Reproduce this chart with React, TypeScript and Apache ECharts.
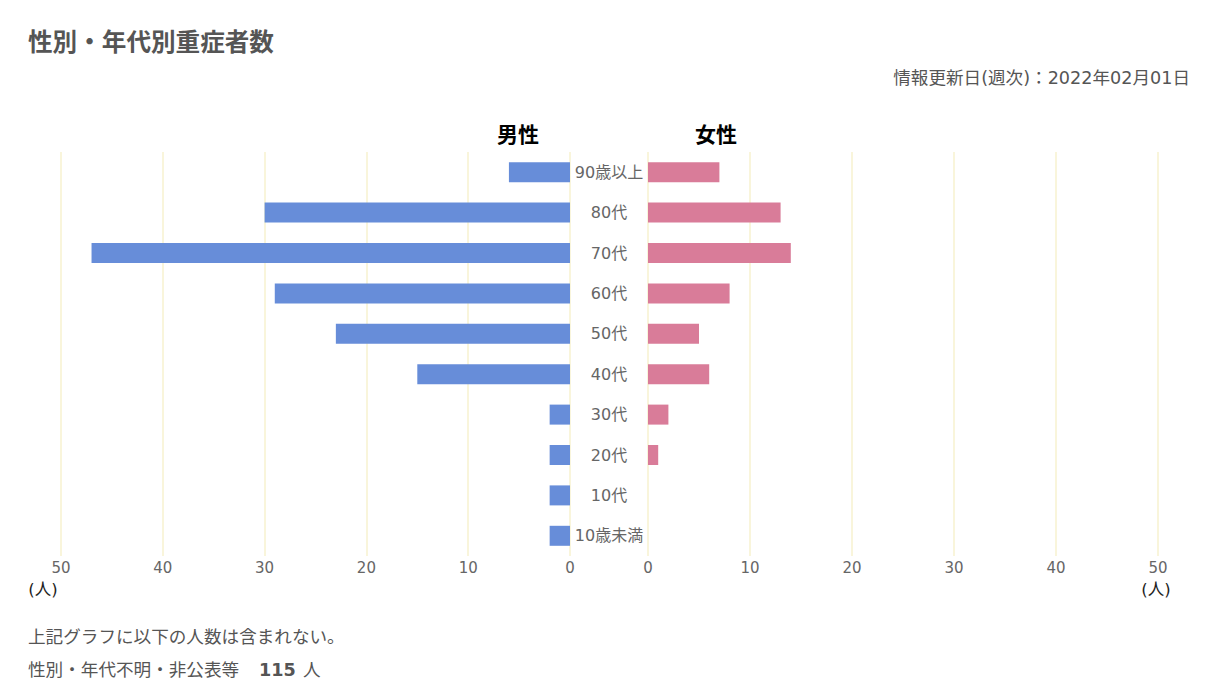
import React, { useEffect, useRef } from "react";
import * as echarts from "echarts";

const categories = ["90歳以上", "80代", "70代", "60代", "50代", "40代", "30代", "20代", "10代", "10歳未満"];
const maleValues = [6, 30, 47, 29, 23, 15, 2, 2, 2, 2];
const femaleValues = [7, 13, 14, 8, 5, 6, 2, 1, 0, 0];
const axisMin = 0;
const axisMax = 50;
const axisInterval = 10;

const FONT = '"DejaVu Sans", "Noto Sans CJK JP", sans-serif';
const GRID_LINE = "#f7f2cf";
const LABEL = "#666666";
const TEXT = "#555555";

export default function App() {
  const ref = useRef<HTMLDivElement>(null);
  useEffect(() => {
    document.body.style.margin = "0";
    const chart = echarts.init(ref.current!, null, { renderer: "svg" });
    const valueAxis = (gridIndex: number, inverse: boolean) => ({
      type: "value",
      gridIndex,
      inverse,
      min: axisMin,
      max: axisMax,
      interval: axisInterval,
      axisLine: { show: false },
      axisTick: { show: false },
      axisLabel: { color: LABEL, fontSize: 15, margin: 4, fontFamily: FONT },
      splitLine: { show: true, lineStyle: { color: GRID_LINE, width: 1.5 } },
    });
    const txt = (x: number, y: number, text: string, extra: any = {}) => ({
      type: "text",
      x,
      y,
      style: { text, fontSize: 17.6, fill: TEXT, verticalAlign: "middle", fontFamily: FONT, ...extra },
    });
    chart.setOption({
      animation: false,
      textStyle: { fontFamily: FONT },
      grid: [
        { left: 61, width: 509, top: 152, height: 404 },
        { left: 648, width: 510, top: 152, height: 404 },
      ],
      xAxis: [valueAxis(0, true), valueAxis(1, false)],
      yAxis: [
        {
          type: "category",
          gridIndex: 0,
          data: categories,
          inverse: true,
          axisLine: { show: false },
          axisTick: { show: false },
          axisLabel: { show: false },
        },
        {
          type: "category",
          gridIndex: 1,
          data: categories,
          inverse: true,
          axisLine: { show: false },
          axisTick: { show: false },
          axisLabel: { color: LABEL, fontSize: 16, align: "center", margin: 39, fontFamily: FONT },
        },
      ],
      series: [
        {
          name: "男性",
          type: "bar",
          xAxisIndex: 0,
          yAxisIndex: 0,
          data: maleValues,
          barWidth: 20,
          itemStyle: { color: "#678dd9" },
        },
        {
          name: "女性",
          type: "bar",
          xAxisIndex: 1,
          yAxisIndex: 1,
          data: femaleValues,
          barWidth: 20,
          itemStyle: { color: "#d97c99" },
        },
      ],
      graphic: [
        txt(28, 42, "性別・年代別重症者数", { fontSize: 24.6, fontWeight: "bold" }),
        txt(1190, 78, "情報更新日(週次)：2022年02月01日", { align: "right" }),
        txt(518, 135, "男性", { fontSize: 21, fontWeight: "bold", fill: "#000000", align: "center" }),
        txt(716, 135, "女性", { fontSize: 21, fontWeight: "bold", fill: "#000000", align: "center" }),
        txt(43, 589, "(人)", { fontSize: 16.5, fill: "#222222", align: "center" }),
        txt(1156, 589, "(人)", { fontSize: 16.5, fill: "#222222", align: "center" }),
        txt(28, 637, "上記グラフに以下の人数は含まれない。"),
        txt(28, 670, "性別・年代不明・非公表等"),
        txt(259, 670, "115", { fontWeight: "bold" }),
        txt(303, 670, "人"),
      ],
    });
    return () => chart.dispose();
  }, []);
  return <div ref={ref} style={{ width: 1218, height: 700 }} />;
}
